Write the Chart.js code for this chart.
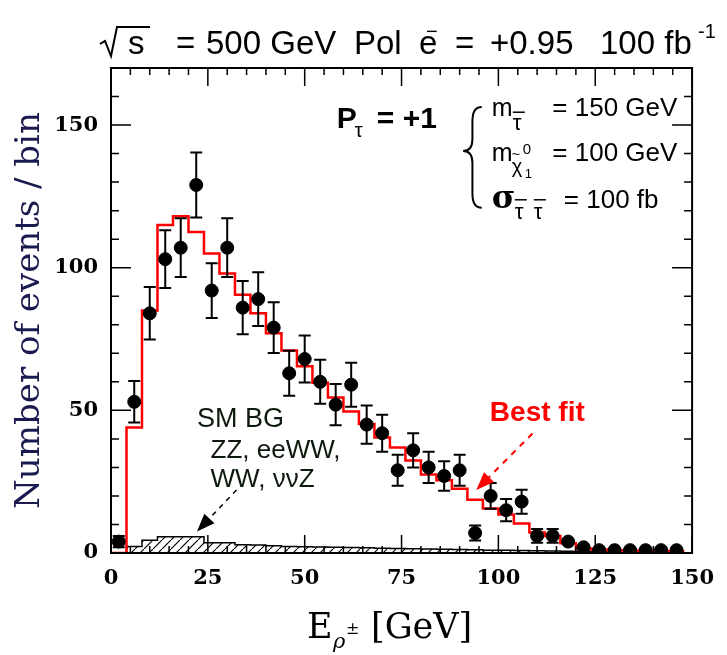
<!DOCTYPE html>
<html>
<head>
<meta charset="utf-8">
<script src="https://cdn.jsdelivr.net/npm/chart.js@4.4.1/dist/chart.umd.min.js"></script>
<style>
  body { margin: 0; background: #fff; }
  #wrap { width: 727px; height: 655px; }
</style>
</head>
<body>
<div id="wrap"><canvas id="chart" width="727" height="655"></canvas></div>
<script>
// measured spectrum, 4 GeV bins (bin centres)
const binCenters = [2, 6, 10, 14, 18, 22, 26, 30, 34, 38, 42, 46, 50, 54, 58, 62, 66, 70, 74,
    78, 82, 86, 90, 94, 98, 102, 106, 110, 114, 118, 122, 126, 130, 134, 138, 142, 146];
const counts = [4, 53, 84, 103, 107, 129, 92, 107, 86, 89, 79, 63, 68, 60, 52, 59, 45, 42, 29,
    36, 30, 27, 29, 7, 20, 15, 18, 6, 6, 4, 2, 1, 1, 1, 1, 1, 1];
const countErrors = [2, 7.3, 9.2, 10.1, 10.3, 11.4, 9.6, 10.3, 9.3, 9.4, 8.9, 7.9, 8.2, 7.7, 7.2,
    7.7, 6.7, 6.5, 5.4, 6, 5.5, 5.2, 5.4, 2.6, 4.5, 3.9, 4.2, 2.4, 2.4, 0, 0, 0, 0, 0, 0, 0, 0];

// histogram bin edges, value holds from this edge to the next one
const binEdges = [0, 4, 8, 12, 16, 20, 24, 28, 32, 36, 40, 44, 48, 52, 56, 60, 64, 68, 72, 76,
    80, 84, 88, 92, 96, 100, 104, 108, 112, 116, 120, 124, 128, 132, 136, 140, 144, 148];
const fitValues = [0, 44, 85, 115, 118, 112.5, 105, 98, 90.5, 84, 77, 71, 65.5, 59.7, 54.5, 49.6,
    45.2, 40.5, 37, 32.4, 27.5, 25.5, 22.5, 18.7, 15.6, 13.5, 10.3, 7.2, 6, 3.4, 1.6, 1.2, 1,
    0.9, 0.8, 0.7, 0.6, 0.6];
const bgValues = [0, 2.3, 4.5, 5.7, 5.7, 5.7, 3.6, 3.6, 2.9, 2.8, 2.5, 2.3, 2.2, 2.1, 2.0, 1.9,
    1.8, 1.7, 1.6, 1.5, 1.4, 1.3, 1.2, 1.1, 1.0, 1.0, 0.9, 0.8, 0.7, 0.6, 0.5, 0.4, 0.3, 0.3,
    0.2, 0.2, 0.1, 0];

const xTickValues = [0, 25, 50, 75, 100, 125, 150];
const yTickValues = [0, 50, 100, 150];

// hatch pattern for the SM background
const hatchCanvas = document.createElement('canvas');
hatchCanvas.width = 9;
hatchCanvas.height = 9;
const hc = hatchCanvas.getContext('2d');
hc.strokeStyle = '#000';
hc.lineWidth = 1.2;
hc.beginPath();
hc.moveTo(0, 9);
hc.lineTo(9, 0);
hc.stroke();
const hatch = hc.createPattern(hatchCanvas, 'repeat');

function arrow(ctx, x1, y1, x2, y2, color, dash, width) {
    const ang = Math.atan2(y2 - y1, x2 - x1);
    const len = 18, half = 7;
    const bx = x2 - len * Math.cos(ang), by = y2 - len * Math.sin(ang);
    ctx.save();
    ctx.strokeStyle = color;
    ctx.fillStyle = color;
    ctx.lineWidth = width;
    ctx.setLineDash(dash);
    ctx.beginPath();
    ctx.moveTo(x1, y1);
    ctx.lineTo(bx, by);
    ctx.stroke();
    ctx.setLineDash([]);
    ctx.beginPath();
    ctx.moveTo(x2, y2);
    ctx.lineTo(bx + half * Math.sin(ang), by - half * Math.cos(ang));
    ctx.lineTo(bx - half * Math.sin(ang), by + half * Math.cos(ang));
    ctx.closePath();
    ctx.fill();
    ctx.restore();
}

function text(ctx, s, x, y, font, color, align) {
    ctx.font = font;
    ctx.fillStyle = color || '#000';
    ctx.textAlign = align || 'left';
    ctx.textBaseline = 'alphabetic';
    ctx.fillText(s, x, y);
}

function bar(ctx, x1, x2, y) {
    ctx.beginPath();
    ctx.moveTo(x1, y);
    ctx.lineTo(x2, y);
    ctx.stroke();
}

const decor = {
    id: 'decor',
    beforeDraw(chart) {
        const ctx = chart.ctx;
        ctx.save();
        ctx.fillStyle = '#fff';
        ctx.fillRect(0, 0, chart.width, chart.height);
        ctx.restore();
    },
    afterDatasetsDraw(chart) {
        const ctx = chart.ctx;
        const xs = chart.scales.x, ys = chart.scales.y;
        const a = chart.chartArea;
        ctx.save();
        // error bars
        ctx.strokeStyle = '#000';
        ctx.lineWidth = 2;
        binCenters.forEach((c, i) => {
            if (!countErrors[i]) return;
            const x = xs.getPixelForValue(c);
            const lo = ys.getPixelForValue(counts[i] - countErrors[i]);
            const hi = ys.getPixelForValue(counts[i] + countErrors[i]);
            ctx.beginPath();
            ctx.moveTo(x, lo); ctx.lineTo(x, hi);
            ctx.moveTo(x - 6, lo); ctx.lineTo(x + 6, lo);
            ctx.moveTo(x - 6, hi); ctx.lineTo(x + 6, hi);
            ctx.stroke();
        });
        // frame and inside ticks on all four sides
        ctx.lineWidth = 2;
        ctx.strokeRect(a.left, a.top, a.right - a.left, a.bottom - a.top);
        ctx.lineWidth = 1.5;
        ctx.beginPath();
        for (let v = 0; v <= 150; v += 5) {
            const x = xs.getPixelForValue(v);
            const len = v % 25 === 0 ? 18 : 7;
            ctx.moveTo(x, a.bottom); ctx.lineTo(x, a.bottom - len);
            ctx.moveTo(x, a.top); ctx.lineTo(x, a.top + len);
        }
        for (let v = 0; v <= 170; v += 10) {
            const y = ys.getPixelForValue(v);
            const len = v % 50 === 0 ? 20 : 8;
            ctx.moveTo(a.left, y); ctx.lineTo(a.left + len, y);
            ctx.moveTo(a.right, y); ctx.lineTo(a.right - len, y);
        }
        ctx.stroke();
        ctx.restore();
    },
    afterDraw(chart) {
        const ctx = chart.ctx;
        const xs = chart.scales.x, ys = chart.scales.y;
        const X = v => xs.getPixelForValue(v), Y = v => ys.getPixelForValue(v);
        const sans = 'Liberation Sans';
        ctx.save();
        ctx.strokeStyle = '#000';

        // title line above the frame
        ctx.lineWidth = 2;
        ctx.beginPath();
        ctx.moveTo(100, 44); ctx.lineTo(105, 41); ctx.lineTo(111, 56); ctx.lineTo(117, 27); ctx.lineTo(150, 27);
        ctx.stroke();
        text(ctx, 's', 128, 54, `33px ${sans}`);
        text(ctx, '=', 176, 54, `33px ${sans}`);
        text(ctx, '500 GeV', 206, 54, `33px ${sans}`);
        text(ctx, 'Pol', 354, 54, `33px ${sans}`);
        text(ctx, 'e', 419, 54, `33px ${sans}`);
        text(ctx, '\u2212', 426, 38, `20px ${sans}`);
        text(ctx, '=', 455, 54, `33px ${sans}`);
        text(ctx, '+0.95', 490, 54, `33px ${sans}`);
        text(ctx, '100 fb', 600, 54, `33px ${sans}`);
        text(ctx, '-1', 698, 38, `20px ${sans}`);

        // P_tau = +1
        const x0 = X(58.3), y0 = Y(148.8);
        text(ctx, 'P', x0, y0, `bold 30px ${sans}`);
        text(ctx, '\u03C4', x0 + 18, y0 + 9, `20px ${sans}`);
        text(ctx, '= +1', x0 + 40, y0, `bold 30px ${sans}`);

        // brace
        const bl = X(90.9), br = X(95.7), bc = (bl + br) / 2;
        const bt = Y(156.3), bb = Y(121.0), bm = Y(140.9);
        ctx.lineWidth = 2;
        ctx.beginPath();
        ctx.moveTo(br, bt);
        ctx.quadraticCurveTo(bc, bt, bc, bt + 14);
        ctx.lineTo(bc, bm - 12);
        ctx.quadraticCurveTo(bc, bm, bl, bm);
        ctx.quadraticCurveTo(bc, bm, bc, bm + 12);
        ctx.lineTo(bc, bb - 14);
        ctx.quadraticCurveTo(bc, bb, br, bb);
        ctx.stroke();

        // parameter list
        ctx.lineWidth = 1.5;
        const mx = X(98.3), rx = X(146.2);
        const y1 = Y(153.1);
        text(ctx, 'm', mx, y1, `25px ${sans}`);
        text(ctx, '\u03C4', mx + 21, y1 + 14, `22px ${sans}`);
        bar(ctx, mx + 21, mx + 33, y1 - 4);
        text(ctx, '= 150 GeV', rx, y1, `26px ${sans}`, '#000', 'right');
        const y2 = Y(137.4);
        text(ctx, 'm', mx, y2, `25px ${sans}`);
        text(ctx, '\u03C7', mx + 20, y2 + 12, `20px ${sans}`);
        text(ctx, '~', mx + 20, y2 - 2, `14px ${sans}`);
        text(ctx, '0', mx + 31, y2 - 7, `15px ${sans}`);
        text(ctx, '1', mx + 33, y2 + 17, `13px ${sans}`);
        text(ctx, '= 100 GeV', rx, y2, `26px ${sans}`, '#000', 'right');
        const y3 = Y(121.0);
        text(ctx, '\u03C3', mx, y3, 'bold 32px DejaVu Serif');
        text(ctx, '\u03C4', mx + 23, y3 + 11, `22px ${sans}`);
        text(ctx, '\u03C4', mx + 42, y3 + 11, `22px ${sans}`);
        bar(ctx, mx + 23, mx + 35, y3 - 8);
        bar(ctx, mx + 42, mx + 54, y3 - 8);
        text(ctx, '= 100 fb', mx + 72, y3, `26px ${sans}`);

        // SM background label
        const bgc = '#0d1a0d';
        text(ctx, 'SM BG', X(22.2), Y(44.1), `27px ${sans}`, bgc);
        text(ctx, 'ZZ, eeWW,', X(25.7), Y(33.3), `26px ${sans}`, bgc);
        text(ctx, 'WW, \u03BD\u03BDZ', X(25.7), Y(23.2), `26px ${sans}`, bgc);
        arrow(ctx, X(32.4), Y(22.1), X(22.2), Y(7.5), '#000', [5, 5], 1.5);

        // best fit label
        text(ctx, 'Best fit', X(97.8), Y(46.2), `bold 28px ${sans}`, '#ff0000');
        arrow(ctx, X(108.8), Y(41.9), X(94.3), Y(22.1), '#ff0000', [6, 6], 2);

        // x axis title
        text(ctx, 'E', 307, 638, '35px DejaVu Serif');
        text(ctx, '\u03C1', 333, 648, 'italic 21px DejaVu Serif');
        text(ctx, '\u00B1', 346, 634, '16px DejaVu Serif');
        text(ctx, '[GeV]', 371, 638, '35px DejaVu Serif');
        ctx.restore();
    }
};

const tickFont = { family: 'DejaVu Serif', weight: 'bold', size: 21 };

new Chart(document.getElementById('chart'), {
    type: 'line',
    data: {
        datasets: [{
            label: 'Data',
            type: 'scatter',
            order: 0,
            data: binCenters.map((x, i) => ({ x: x, y: counts[i] })),
            pointRadius: 6.5,
            pointBackgroundColor: '#000',
            pointBorderColor: '#000',
            showLine: false
        }, {
            label: 'Best fit',
            order: 1,
            data: binEdges.map((x, i) => ({ x: x, y: fitValues[i] })),
            stepped: 'before',
            borderColor: '#ff0000',
            borderWidth: 2.5,
            pointRadius: 0,
            fill: false
        }, {
            label: 'SM BG',
            order: 2,
            data: binEdges.map((x, i) => ({ x: x, y: bgValues[i] })),
            stepped: 'before',
            borderColor: '#000',
            borderWidth: 1.5,
            backgroundColor: hatch,
            pointRadius: 0,
            fill: 'origin'
        }]
    },
    options: {
        responsive: false,
        animation: false,
        layout: { padding: { top: 68, right: 27, left: 0, bottom: 0 } },
        plugins: { legend: { display: false }, tooltip: { enabled: false } },
        scales: {
            x: {
                type: 'linear',
                min: 0,
                max: 150,
                grid: { display: false, drawTicks: false },
                border: { display: false },
                afterBuildTicks: s => { s.ticks = xTickValues.map(v => ({ value: v })); },
                afterFit: s => { s.height = 102; },
                ticks: { font: tickFont, color: '#000', padding: 13, maxRotation: 0, autoSkip: false }
            },
            y: {
                min: 0,
                max: 170,
                grid: { display: false, drawTicks: false },
                border: { display: false },
                afterBuildTicks: s => { s.ticks = yTickValues.map(v => ({ value: v })); },
                afterFit: s => { s.width = 111; },
                ticks: { font: tickFont, color: '#000', padding: 13 },
                title: {
                    display: true,
                    text: 'Number of events / bin',
                    font: { family: 'DejaVu Serif', size: 34 },
                    color: '#1a1a50',
                    padding: { top: 10 }
                }
            }
        }
    },
    plugins: [decor]
});
</script>
</body>
</html>
